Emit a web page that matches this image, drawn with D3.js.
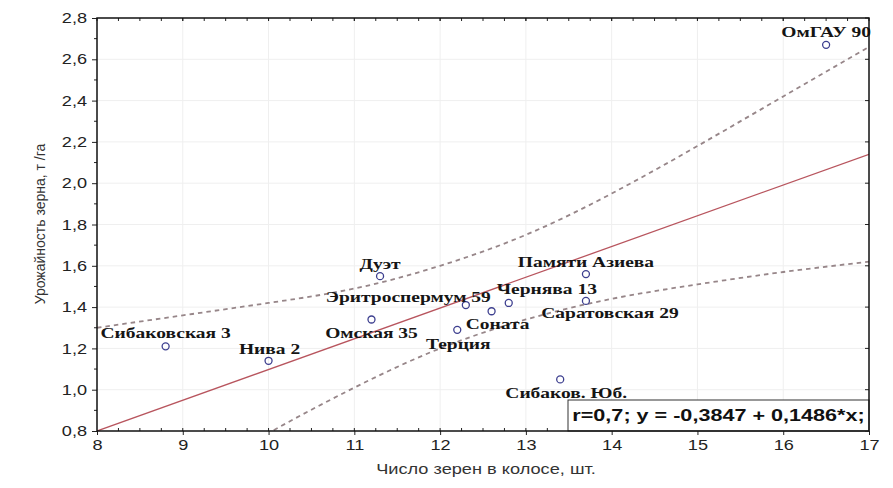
<!DOCTYPE html>
<html>
  <head>
    <meta charset="utf-8" />
    <script src="https://cdn.jsdelivr.net/npm/d3@7"></script>
    <style>
      body { margin: 0; background: #fff; }
      svg { display: block; }
    </style>
  </head>
  <body>
    <script>
      // points
      const names = ["Сибаковская 3", "Нива 2", "Дуэт", "Омская 35", "Эритроспермум 59", "Соната",
        "Терция", "Чернява 13", "Памяти Азиева", "Саратовская 29", "Сибаков. Юб.", "ОмГАУ 90"];
      const grains = [8.8, 10.0, 11.3, 11.2, 12.3, 12.6, 12.2, 12.8, 13.7, 13.7, 13.4, 16.5];
      const yields = [1.21, 1.14, 1.55, 1.34, 1.41, 1.38, 1.29, 1.42, 1.56, 1.43, 1.05, 2.67];

      // fitted line and the dashed band, read at whole x
      const fitX = [8, 17];
      const fitY = [0.80, 2.14];
      const bandX = [8, 9, 10, 11, 12, 13, 14, 15, 16, 17];
      const upper = [1.30, 1.36, 1.42, 1.49, 1.60, 1.75, 1.95, 2.18, 2.42, 2.66];
      const lower = [0.31, 0.55, 0.79, 1.01, 1.20, 1.34, 1.44, 1.51, 1.57, 1.62];

      const xTicks = [8, 9, 10, 11, 12, 13, 14, 15, 16, 17];
      const yTicks = [0.8, 1.0, 1.2, 1.4, 1.6, 1.8, 2.0, 2.2, 2.4, 2.6, 2.8];
      const equation = "r=0,7; y = -0,3847 + 0,1486*x;";

      // label placement: anchor, dx, dy from the point
      const labelPos = [["middle", 0, -8], ["middle", 1, -7], ["middle", 0, -7], ["middle", 0, 19],
        ["end", 25, -3], ["middle", 6, 18], ["middle", 1, 19], ["start", -12, -9],
        ["middle", 0, -7], ["middle", 24, 17], ["middle", 6, 19], ["middle", 0, -8]];

      const margin = { top: 18, right: 24, bottom: 57, left: 97 };
      const W = 893, H = 488;
      const w = W - margin.left - margin.right;
      const h = H - margin.top - margin.bottom;
      const stretch = 1.3;

      const svg = d3.select("body").append("svg")
        .attr("width", W).attr("height", H);
      const g = svg.append("g")
        .attr("transform", "translate(" + margin.left + "," + margin.top + ")");

      const x = d3.scaleLinear().domain([8, 17]).range([0, w]);
      const y = d3.scaleLinear().domain([0.8, 2.8]).range([h, 0]);
      const comma = d => d3.format(".1f")(d).replace(".", ",");

      // faint grid
      g.append("g").selectAll("line").data(xTicks.slice(1, -1)).enter().append("line")
        .attr("x1", d => x(d)).attr("x2", d => x(d)).attr("y1", 0).attr("y2", h)
        .attr("stroke", "#efefef");
      g.append("g").selectAll("line").data(yTicks.slice(1, -1)).enter().append("line")
        .attr("y1", d => y(d)).attr("y2", d => y(d)).attr("x1", 0).attr("x2", w)
        .attr("stroke", "#efefef");

      svg.append("clipPath").attr("id", "plot").append("rect")
        .attr("width", w).attr("height", h);
      const inner = g.append("g").attr("clip-path", "url(#plot)");

      const band = d3.line().curve(d3.curveNatural)
        .x((d, i) => x(bandX[i])).y(d => y(d));
      [upper, lower].forEach(arr => {
        inner.append("path").attr("d", band(arr))
          .attr("fill", "none").attr("stroke", "#978689")
          .attr("stroke-width", 1.8).attr("stroke-dasharray", "4.5,4");
      });

      inner.append("path")
        .attr("d", d3.line().x((d, i) => x(fitX[i])).y(d => y(d))(fitY))
        .attr("fill", "none").attr("stroke", "#b8555e").attr("stroke-width", 1.3);

      // points
      g.append("g").selectAll("circle").data(grains).enter().append("circle")
        .attr("cx", d => x(d)).attr("cy", (d, i) => y(yields[i])).attr("r", 3.5)
        .attr("fill", "none").attr("stroke", "#3d3f8f").attr("stroke-width", 1.3);

      g.append("g").selectAll("text").data(names).enter().append("text")
        .attr("transform", (d, i) => "translate(" + (x(grains[i]) + labelPos[i][1]) + "," +
          (y(yields[i]) + labelPos[i][2]) + ") scale(" + stretch + ",1)")
        .attr("text-anchor", (d, i) => labelPos[i][0])
        .attr("font-family", "Liberation Serif, serif").attr("font-weight", "bold")
        .attr("font-size", 15).attr("fill", "#151515")
        .text(d => d);

      // axes
      const yAxis = g.append("g").call(d3.axisLeft(y).tickValues(yTicks).tickFormat(comma).tickSize(5).tickPadding(5));
      const xAxis = g.append("g").attr("transform", "translate(0," + h + ")")
        .call(d3.axisBottom(x).tickValues(xTicks).tickSize(4).tickPadding(5));
      [yAxis, xAxis].forEach(a => {
        a.select(".domain").remove();
        a.selectAll("text").attr("font-family", "Liberation Sans, Arial, sans-serif")
          .attr("font-size", 14.5).attr("fill", "#222");
        a.selectAll("line").attr("stroke", "#222");
      });
      yAxis.selectAll("text").attr("x", -8).attr("transform", "scale(1.25,1)");
      xAxis.selectAll("text").attr("transform", "scale(1.25,1)");

      // minor ticks
      const yMinor = d3.range(0.9, 2.8, 0.2);
      g.append("g").selectAll("line").data(yMinor).enter().append("line")
        .attr("x1", -3).attr("x2", 0).attr("y1", d => y(d)).attr("y2", d => y(d)).attr("stroke", "#222");
      const xMinor = d3.range(8.25, 17, 0.25);
      g.append("g").selectAll("line").data(xMinor).enter().append("line")
        .attr("x1", d => x(d)).attr("x2", d => x(d)).attr("y1", h - 3).attr("y2", h).attr("stroke", "#222");
      g.append("g").selectAll("line").data(xMinor.concat(xTicks)).enter().append("line")
        .attr("x1", d => x(d)).attr("x2", d => x(d)).attr("y1", 0).attr("y2", 3).attr("stroke", "#222");
      g.append("g").selectAll("line").data(yTicks).enter().append("line")
        .attr("x1", w - 4).attr("x2", w).attr("y1", d => y(d)).attr("y2", d => y(d)).attr("stroke", "#222");

      // equation box
      const boxW = 301, boxH = 31;
      g.append("rect").attr("x", w - boxW).attr("y", h - boxH).attr("width", boxW).attr("height", boxH)
        .attr("fill", "#fff").attr("stroke", "#333").attr("stroke-width", 1);
      g.append("text")
        .attr("transform", "translate(" + (w - boxW / 2) + "," + (h - 10) + ") scale(1.35,1)")
        .attr("text-anchor", "middle").attr("font-family", "Liberation Sans, Arial, sans-serif")
        .attr("font-weight", "bold").attr("font-size", 16).attr("fill", "#111")
        .text(equation);

      // frame
      g.append("rect").attr("width", w).attr("height", h)
        .attr("fill", "none").attr("stroke", "#111").attr("stroke-width", 1.5);

      // titles
      svg.append("text")
        .attr("transform", "translate(" + (margin.left + w / 2 + 3) + "," + (H - 14) + ") scale(" + stretch + ",1)")
        .attr("text-anchor", "middle").attr("font-family", "Liberation Sans, Arial, sans-serif")
        .attr("font-size", 14).attr("fill", "#333")
        .text("Число зерен в колосе, шт.");
      svg.append("text")
        .attr("transform", "translate(45," + (margin.top + 206) + ") rotate(-90)")
        .attr("text-anchor", "middle").attr("font-family", "Liberation Sans, Arial, sans-serif")
        .attr("font-size", 14).attr("fill", "#333")
        .text("Урожайность зерна, т /га");
    </script>
  </body>
</html>
